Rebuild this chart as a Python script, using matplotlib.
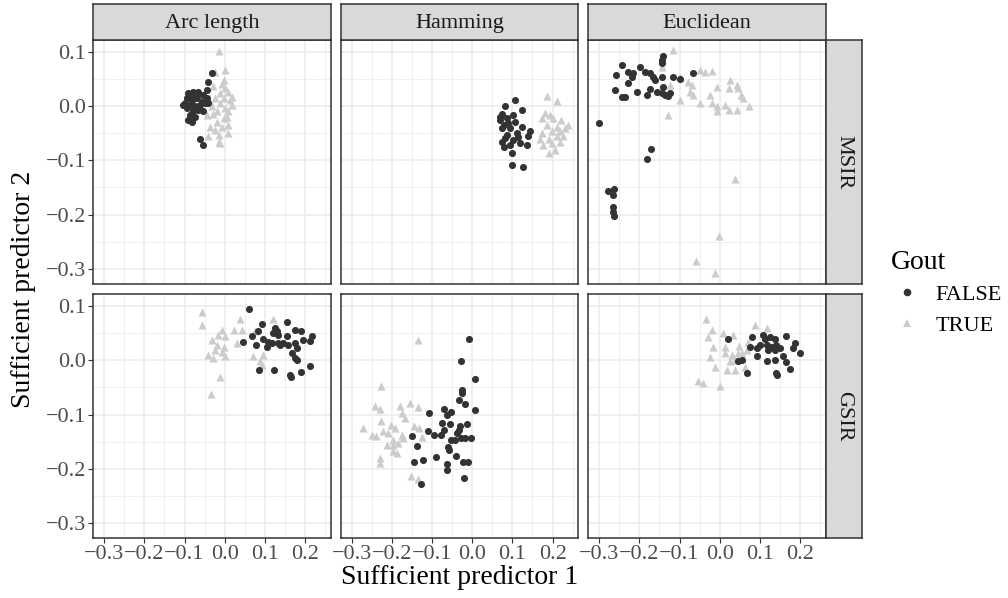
import matplotlib
matplotlib.use("Agg")
import matplotlib.pyplot as plt
from matplotlib.lines import Line2D

plt.rcParams['font.family'] = ['Liberation Serif', 'DejaVu Serif']

metrics = ["Arc length", "Hamming", "Euclidean"]
methods = ["MSIR", "GSIR"]
x_ticks = [-0.3, -0.2, -0.1, 0.0, 0.1, 0.2]
y_ticks = [0.1, 0.0, -0.1, -0.2, -0.3]
x_lim = (-0.327, 0.264)
y_lim = (-0.328, 0.1215)

# Arc length / MSIR
arc_msir_false_x = [-0.032, -0.041, -0.045, -0.091, -0.078, -0.066, -0.053, -0.095, -0.082, -0.070,
                    -0.057, -0.099, -0.086, -0.074, -0.062, -0.049, -0.041, -0.095, -0.078, -0.066,
                    -0.053, -0.086, -0.074, -0.082, -0.091, -0.062, -0.053, -0.103, -0.045, -0.082]
arc_msir_false_y = [0.061, 0.045, 0.029, 0.023, 0.026, 0.025, 0.020, 0.014, 0.011, 0.014,
                    0.008, 0.005, 0.002, -0.001, 0.002, 0.005, 0.005, -0.004, -0.010, -0.008,
                    -0.010, -0.017, -0.020, -0.029, -0.026, -0.060, -0.072, 0.002, 0.014, 0.020]
arc_msir_true_x = [-0.013, 0.001, -0.024, -0.001, -0.028, 0.001, -0.012, 0.009, -0.024, -0.003,
                   0.013, -0.037, -0.012, 0.017, 0.001, -0.020, 0.009, -0.045, -0.028, -0.003,
                   -0.020, 0.005, -0.037, -0.007, -0.024, 0.009, -0.041, -0.015, 0.009, -0.012,
                   -0.015, -0.007, 0.017, -0.032]
arc_msir_true_y = [0.102, 0.066, 0.063, 0.048, 0.036, 0.033, 0.024, 0.026, 0.014, 0.014,
                   0.011, 0.008, 0.005, 0.002, -0.004, -0.010, -0.010, -0.017, -0.014, -0.023,
                   -0.029, -0.020, -0.038, -0.038, -0.044, -0.035, -0.056, -0.053, -0.050, -0.069,
                   -0.066, 0.040, 0.017, -0.001]

# Hamming / MSIR
ham_msir_false_x = [0.106, 0.082, 0.123, 0.102, 0.073, 0.086, 0.069, 0.123, 0.073, 0.094,
                    0.144, 0.140, 0.086, 0.111, 0.082, 0.102, 0.119, 0.136, 0.078, 0.094,
                    0.098, 0.098, 0.127, 0.078, 0.090, 0.069, 0.106, 0.073, 0.115]
ham_msir_false_y = [0.011, -0.001, -0.007, -0.017, -0.014, -0.023, -0.025, -0.038, -0.041, -0.041,
                    -0.047, -0.055, -0.053, -0.050, -0.059, -0.062, -0.069, -0.072, -0.075, -0.072,
                    -0.087, -0.109, -0.112, -0.035, -0.032, -0.020, -0.029, -0.066, -0.057]
ham_msir_true_x = [0.187, 0.212, 0.181, 0.202, 0.222, 0.239, 0.185, 0.210, 0.173, 0.198,
                   0.218, 0.231, 0.169, 0.190, 0.210, 0.227, 0.177, 0.198, 0.218, 0.190,
                   0.206, 0.173, 0.194]
ham_msir_true_y = [0.019, 0.009, -0.013, -0.023, -0.025, -0.035, -0.035, -0.038, -0.050, -0.047,
                   -0.047, -0.041, -0.060, -0.060, -0.056, -0.056, -0.072, -0.069, -0.066, -0.087,
                   -0.081, -0.023, -0.017]

# Euclidean / MSIR
euc_msir_false_x = [-0.140, -0.144, -0.144, -0.244, -0.258, -0.227, -0.215, -0.219, -0.198, -0.186,
                    -0.173, -0.165, -0.161, -0.144, -0.115, -0.100, -0.067, -0.227, -0.260, -0.244,
                    -0.236, -0.206, -0.181, -0.173, -0.157, -0.140, -0.144, -0.124, -0.128, -0.136,
                    -0.300, -0.172, -0.182, -0.279, -0.262, -0.266, -0.266, -0.265, -0.263]
euc_msir_false_y = [0.092, 0.085, 0.079, 0.076, 0.057, 0.063, 0.060, 0.054, 0.071, 0.063,
                    0.060, 0.054, 0.048, 0.054, 0.053, 0.050, 0.060, 0.043, 0.029, 0.016,
                    0.017, 0.025, 0.020, 0.032, 0.026, 0.035, 0.023, 0.024, 0.018, 0.020,
                    -0.031, -0.079, -0.098, -0.156, -0.153, -0.164, -0.187, -0.195, -0.203]
euc_msir_true_x = [-0.117, -0.144, -0.049, -0.037, -0.020, -0.099, -0.124, -0.078, -0.070, -0.007,
                   0.026, 0.042, 0.022, -0.074, -0.066, -0.024, -0.099, 0.054, 0.058, -0.049,
                   -0.020, -0.007, 0.013, 0.022, 0.042, 0.074, -0.007, -0.128, 0.046,
                   0.038, -0.003, -0.060, -0.012]
euc_msir_true_y = [0.103, 0.072, 0.066, 0.062, 0.064, 0.054, 0.039, 0.045, 0.039, 0.035,
                   0.048, 0.039, 0.033, 0.026, 0.020, 0.020, 0.011, 0.020, 0.014, 0.005,
                   0.005, -0.001, 0.002, -0.007, -0.007, 0.000, -0.010, -0.017, 0.033,
                   -0.135, -0.239, -0.285, -0.307]

# Arc length / GSIR
arc_gsir_false_x = [0.061, 0.092, 0.156, 0.125, 0.129, 0.121, 0.133, 0.084, 0.067, 0.096,
                    0.108, 0.117, 0.133, 0.146, 0.154, 0.175, 0.191, 0.158, 0.175, 0.179,
                    0.196, 0.217, 0.213, 0.046, 0.078, 0.167, 0.175, 0.179, 0.085, 0.123,
                    0.162, 0.165, 0.191, 0.212, 0.137, 0.104]
arc_gsir_false_y = [0.094, 0.066, 0.071, 0.059, 0.053, 0.050, 0.047, 0.053, 0.044, 0.040,
                    0.034, 0.031, 0.031, 0.031, 0.044, 0.056, 0.053, 0.028, 0.031, 0.022,
                    0.037, 0.044, 0.035, 0.034, 0.028, 0.013, 0.004, 0.001, -0.018, -0.018,
                    -0.027, -0.030, -0.021, -0.010, 0.028, 0.025]
arc_gsir_true_x = [-0.057, -0.057, 0.038, 0.121, -0.007, 0.022, 0.042, -0.016, 0.001, 0.076,
                   0.030, -0.020, -0.003, -0.024, -0.007, -0.041, -0.028, 0.001, 0.071, 0.096,
                   0.088, 0.092, -0.011, -0.035, -0.032]
arc_gsir_true_y = [0.088, 0.065, 0.076, 0.076, 0.056, 0.056, 0.056, 0.047, 0.044, 0.053,
                   0.031, 0.028, 0.025, 0.019, 0.016, 0.010, 0.004, 0.007, 0.007, 0.009,
                   -0.002, -0.008, -0.030, -0.063, 0.038]

# Hamming / GSIR
ham_gsir_false_x = [-0.008, -0.029, 0.007, -0.025, -0.026, -0.033, -0.018, 0.006, -0.107, -0.069,
                    -0.062, -0.053, -0.076, -0.055, -0.014, -0.109, -0.094, -0.078, -0.069, -0.034,
                    -0.030, -0.037, -0.053, -0.043, -0.029, -0.018, -0.004, -0.150, -0.138, -0.061,
                    -0.057, -0.040, -0.091, -0.123, -0.146, -0.062, -0.062, -0.022, -0.010, -0.021,
                    -0.128]
ham_gsir_false_y = [0.039, -0.001, -0.035, -0.055, -0.061, -0.074, -0.080, -0.092, -0.098, -0.089,
                    -0.101, -0.095, -0.116, -0.117, -0.118, -0.130, -0.138, -0.138, -0.128, -0.128,
                    -0.122, -0.134, -0.147, -0.146, -0.144, -0.143, -0.144, -0.139, -0.158, -0.160,
                    -0.165, -0.176, -0.179, -0.183, -0.188, -0.191, -0.203, -0.188, -0.187, -0.216,
                    -0.228]
ham_gsir_true_x = [-0.134, -0.228, -0.241, -0.230, -0.179, -0.156, -0.134, -0.175, -0.167, -0.228,
                   -0.201, -0.271, -0.250, -0.239, -0.222, -0.210, -0.193, -0.145, -0.133, -0.125,
                   -0.175, -0.197, -0.185, -0.213, -0.197, -0.171, -0.197, -0.186, -0.230, -0.230,
                   -0.152, -0.135]
ham_gsir_true_y = [0.037, -0.047, -0.084, -0.090, -0.085, -0.078, -0.087, -0.098, -0.107, -0.111,
                   -0.119, -0.125, -0.138, -0.140, -0.131, -0.134, -0.125, -0.122, -0.125, -0.141,
                   -0.138, -0.147, -0.153, -0.156, -0.156, -0.144, -0.168, -0.171, -0.180, -0.190,
                   -0.214, -0.219]

# Euclidean / GSIR
euc_gsir_false_x = [0.020, 0.080, 0.108, 0.113, 0.125, 0.137, 0.165, 0.100, 0.117, 0.129,
                    0.141, 0.121, 0.137, 0.150, 0.075, 0.092, 0.188, 0.183, 0.200, 0.092,
                    0.055, 0.046, 0.117, 0.137, 0.158, 0.165, 0.175, 0.139, 0.143, 0.067]
euc_gsir_false_y = [0.039, 0.043, 0.046, 0.040, 0.043, 0.040, 0.045, 0.028, 0.028, 0.025,
                    0.028, 0.019, 0.019, 0.022, 0.025, 0.022, 0.031, 0.022, 0.013, 0.007,
                    0.001, -0.002, -0.002, 0.001, 0.007, -0.004, -0.017, -0.024, -0.027, -0.024]
euc_gsir_true_x = [-0.034, -0.020, -0.028, 0.007, 0.034, 0.087, 0.118, 0.049, 0.071, 0.013,
                   0.013, 0.030, 0.046, 0.067, -0.024, 0.026, 0.038, 0.055, -0.012, 0.017,
                   0.038, 0.063, -0.053, -0.041, 0.001, -0.016]
euc_gsir_true_y = [0.076, 0.056, 0.043, 0.050, 0.046, 0.065, 0.059, 0.026, 0.034, 0.025,
                   0.013, 0.010, 0.013, 0.019, 0.006, -0.002, 0.001, 0.013, -0.012, -0.018,
                   -0.018, -0.012, -0.039, -0.041, -0.047, 0.025]

panels = {
    ("MSIR", "Arc length"): (arc_msir_false_x, arc_msir_false_y, arc_msir_true_x, arc_msir_true_y),
    ("MSIR", "Hamming"): (ham_msir_false_x, ham_msir_false_y, ham_msir_true_x, ham_msir_true_y),
    ("MSIR", "Euclidean"): (euc_msir_false_x, euc_msir_false_y, euc_msir_true_x, euc_msir_true_y),
    ("GSIR", "Arc length"): (arc_gsir_false_x, arc_gsir_false_y, arc_gsir_true_x, arc_gsir_true_y),
    ("GSIR", "Hamming"): (ham_gsir_false_x, ham_gsir_false_y, ham_gsir_true_x, ham_gsir_true_y),
    ("GSIR", "Euclidean"): (euc_gsir_false_x, euc_gsir_false_y, euc_gsir_true_x, euc_gsir_true_y),
}

W, H = 1008, 598
fig = plt.figure(figsize=(W / 100, H / 100), dpi=100)

col_left = [93.3, 340.8, 588.3]
row_top = [40.0, 294.3]
pw, ph = 237.5, 244.0
dark = "#333333"
light = "#CCCCCC"
grid_c = "#EBEBEB"
strip_c = "#D9D9D9"


def px_rect(left, top, w, h):
    return [left / W, (H - top - h) / H, w / W, h / H]


for r, method in enumerate(methods):
    for c, metric in enumerate(metrics):
        ax = fig.add_axes(px_rect(col_left[c], row_top[r], pw, ph))
        ax.set_xlim(*x_lim)
        ax.set_ylim(*y_lim)
        ax.set_xticks(x_ticks)
        ax.set_yticks(y_ticks)
        ax.set_xticks([-0.25, -0.15, -0.05, 0.05, 0.15, 0.25], minor=True)
        ax.set_yticks([0.05, -0.05, -0.15, -0.25], minor=True)
        ax.grid(which="major", color=grid_c, lw=1.1)
        ax.grid(which="minor", color=grid_c, lw=0.55)
        ax.set_axisbelow(True)
        for s in ax.spines.values():
            s.set_color(dark)
            s.set_linewidth(1.1)
        ax.tick_params(which="minor", length=0)
        ax.tick_params(which="major", length=3.5, width=0.8, color=dark,
                       labelsize=16, labelcolor="#4D4D4D", pad=1.5)
        fx, fy, tx, ty = panels[(method, metric)]
        ax.scatter(tx, ty, marker="^", s=34, color=light, linewidths=0, zorder=3)
        ax.scatter(fx, fy, marker="o", s=26, color=dark, linewidths=0, zorder=4)
        if c == 0:
            ax.set_yticklabels([f"{v:.1f}".replace("-", "\u2212") for v in y_ticks])
        else:
            ax.tick_params(axis="y", labelleft=False, length=0)
        if r == 1:
            ax.set_xticklabels([f"{v:.1f}".replace("-", "\u2212") for v in x_ticks])
        else:
            ax.tick_params(axis="x", labelbottom=False, length=0)

        if r == 0:
            sax = fig.add_axes(px_rect(col_left[c], 4.3, pw, 35.7))
            sax.set_facecolor(strip_c)
            sax.set_xticks([])
            sax.set_yticks([])
            for s in sax.spines.values():
                s.set_color(dark)
                s.set_linewidth(1.1)
            sax.text(0.5, 0.47, metric, ha="center", va="center", fontsize=16,
                     color="#1A1A1A", transform=sax.transAxes)
        if c == 2:
            sax = fig.add_axes(px_rect(825.7, row_top[r], 36.0, ph))
            sax.set_facecolor(strip_c)
            sax.set_xticks([])
            sax.set_yticks([])
            for s in sax.spines.values():
                s.set_color(dark)
                s.set_linewidth(1.1)
            sax.text(0.5, 0.5, method, ha="center", va="center", fontsize=16,
                     rotation=-90, color="#1A1A1A", transform=sax.transAxes)

fig.text(459.5 / W, 1 - 577 / H, "Sufficient predictor 1", ha="center", va="center", fontsize=20)
fig.text(24 / W, 1 - 289 / H, "Sufficient predictor 2", ha="center", va="center",
         fontsize=20, rotation=90)

handles = [
    Line2D([], [], marker="o", ls="", color=dark, markersize=5.5, markeredgewidth=0),
    Line2D([], [], marker="^", ls="", color=light, markersize=6, markeredgewidth=0),
]
leg = fig.legend(handles, ["FALSE", "TRUE"], title="Gout", loc="upper left",
                 bbox_to_anchor=(874 / W, 1 - 233 / H), frameon=False,
                 fontsize=16, title_fontsize=20, handletextpad=0.5,
                 labelspacing=0.45, handlelength=1.5, borderaxespad=0,
                 borderpad=0.75)
leg._legend_box.align = "left"

fig.savefig("out.png", dpi=100)
